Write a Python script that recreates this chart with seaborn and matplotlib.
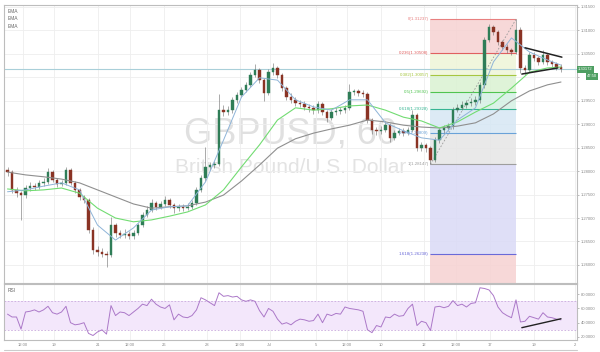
import numpy as np
import pandas as pd
import seaborn as sns
import matplotlib.pyplot as plt

# Seaborn theme first, then the font list (set_theme resets font.family)
sns.set_theme(style="whitegrid", rc={"grid.color": "#eeeeee", "grid.linewidth": 0.6})
plt.rcParams["font.family"] = ["Liberation Sans", "DejaVu Sans"]

"""
# Data read off the chart (GBPUSD, hourly candles)
"""

first_open = 1.2802

closes = [
    1.2798, 1.2760, 1.2753, 1.2749, 1.2764, 1.2768, 1.2766, 1.2775, 1.2777, 1.2798,
    1.2781, 1.2773, 1.2775, 1.2802, 1.2775, 1.2760, 1.2745, 1.2739, 1.2675, 1.2632,
    1.2628, 1.2623, 1.2621, 1.2685, 1.2668, 1.2664, 1.2666, 1.2662, 1.2668, 1.2685,
    1.2707, 1.2717, 1.2732, 1.2724, 1.2730, 1.2739, 1.2728, 1.2721, 1.2724, 1.2721,
    1.2724, 1.2732, 1.2760, 1.2785, 1.2809, 1.2813, 1.2816, 1.2930, 1.2926, 1.2930,
    1.2952, 1.2962, 1.2973, 1.2984, 1.3005, 1.3016, 1.2994, 1.2967, 1.3011, 1.3020,
    1.3005, 1.2977, 1.2958, 1.2952, 1.2945, 1.2943, 1.2937, 1.2935, 1.2930, 1.2943,
    1.2926, 1.2913, 1.2926, 1.2928, 1.2930, 1.2935, 1.2969, 1.2971, 1.2967, 1.2965,
    1.2909, 1.2888, 1.2886, 1.2888, 1.2898, 1.2871, 1.2881, 1.2886, 1.2881, 1.2888,
    1.2920, 1.2849, 1.2856, 1.2849, 1.2824, 1.2866, 1.2888, 1.2892, 1.2896, 1.2930,
    1.2935, 1.2941, 1.2945, 1.2947, 1.2952, 1.2984, 1.3080, 1.3107, 1.3097, 1.3075,
    1.3065, 1.3058, 1.3054, 1.3101, 1.3020, 1.3016, 1.3048, 1.3041, 1.3033, 1.3048,
    1.3033, 1.3028, 1.3022, 1.30172,
]

highs = [
    1.2808, 1.2803, 1.2766, 1.2758, 1.2770, 1.2776, 1.2774, 1.2782, 1.2785, 1.2806,
    1.2802, 1.2786, 1.2781, 1.2809, 1.2806, 1.2779, 1.2764, 1.2750, 1.2742, 1.2680,
    1.2640, 1.2636, 1.2630, 1.2702, 1.2690, 1.2674, 1.2677, 1.2672, 1.2675, 1.2690,
    1.2712, 1.2725, 1.2740, 1.2737, 1.2736, 1.2746, 1.2743, 1.2732, 1.2730, 1.2729,
    1.2731, 1.2738, 1.2766, 1.2791, 1.2852, 1.2820, 1.2822, 1.2965, 1.2940, 1.2938,
    1.2958, 1.2968, 1.2980, 1.2991, 1.3012, 1.3028, 1.3020, 1.2998, 1.3018, 1.3030,
    1.3025, 1.3009, 1.2982, 1.2966, 1.2958, 1.2952, 1.2950, 1.2944, 1.2941, 1.2950,
    1.2948, 1.2930, 1.2933, 1.2936, 1.2937, 1.2942, 1.2985, 1.2976, 1.2975, 1.2972,
    1.2969, 1.2914, 1.2895, 1.2896, 1.2906, 1.2902, 1.2888, 1.2893, 1.2892, 1.2895,
    1.2930, 1.2924, 1.2862, 1.2860, 1.2853, 1.2872, 1.2893, 1.2899, 1.2903, 1.2937,
    1.2944, 1.2950, 1.2952, 1.2956, 1.2960, 1.2990, 1.3086, 1.3113, 1.3112, 1.3100,
    1.3080, 1.3070, 1.3062, 1.31237, 1.3108, 1.3026, 1.3054, 1.3055, 1.3046, 1.3058,
    1.3052, 1.3038, 1.3033, 1.3028,
]

lows = [
    1.2790, 1.2754, 1.2745, 1.2696, 1.2742, 1.2758, 1.2760, 1.2761, 1.2769, 1.2772,
    1.2776, 1.2767, 1.2768, 1.2771, 1.2770, 1.2754, 1.2738, 1.2731, 1.2668, 1.2624,
    1.2620, 1.2616, 1.2596, 1.2617, 1.2660, 1.2657, 1.2658, 1.2655, 1.2656, 1.2663,
    1.2680, 1.2702, 1.2712, 1.2718, 1.2719, 1.2726, 1.2722, 1.2710, 1.2716, 1.2715,
    1.2717, 1.2719, 1.2728, 1.2755, 1.2780, 1.2803, 1.2806, 1.2810, 1.2918, 1.2920,
    1.2925, 1.2946, 1.2957, 1.2968, 1.2979, 1.3000, 1.2988, 1.2950, 1.2962, 1.3004,
    1.2998, 1.2970, 1.2952, 1.2945, 1.2938, 1.2936, 1.2930, 1.2927, 1.2922, 1.2925,
    1.2920, 1.2905, 1.2908, 1.2920, 1.2922, 1.2925, 1.2930, 1.2963, 1.2961, 1.2958,
    1.2902, 1.2880, 1.2878, 1.2880, 1.2883, 1.2862, 1.2866, 1.2876, 1.2875, 1.2876,
    1.2884, 1.2842, 1.2843, 1.2840, 1.28147, 1.2820, 1.2860, 1.2882, 1.2886, 1.2890,
    1.2926, 1.2930, 1.2935, 1.2938, 1.2940, 1.2946, 1.2978, 1.3075, 1.3090, 1.3068,
    1.3058, 1.3052, 1.3048, 1.3050, 1.3010, 1.3006, 1.3012, 1.3034, 1.3026, 1.3028,
    1.3027, 1.3022, 1.3016, 1.3012,
]

# EMA values read every 4th bar
ema_bars = list(range(0, 121, 4)) + [123]
ema_fast = [
    1.2756, 1.2760, 1.2768, 1.2775, 1.2760, 1.2685, 1.2653, 1.2679, 1.2717, 1.2724,
    1.2726, 1.2777, 1.2866, 1.2958, 1.2999, 1.2994, 1.2952, 1.2937, 1.2930, 1.2952,
    1.2952, 1.2903, 1.2886, 1.2871, 1.2866, 1.2909, 1.2935, 1.3033, 1.3084, 1.3054,
    1.3037, 1.3026,
]
ema_mid = [
    1.2762, 1.2758, 1.2760, 1.2764, 1.2753, 1.2721, 1.2700, 1.2692, 1.2696, 1.2704,
    1.2713, 1.2728, 1.2760, 1.2809, 1.2856, 1.2909, 1.2935, 1.2930, 1.2933, 1.2939,
    1.2941, 1.2930, 1.2915, 1.2907, 1.2892, 1.2905, 1.2926, 1.2945, 1.2977, 1.3011,
    1.3020, 1.3022,
]
ema_slow = [
    1.2798, 1.2792, 1.2788, 1.2783, 1.2775, 1.2760, 1.2745, 1.2730, 1.2721, 1.2724,
    1.2726, 1.2734, 1.2749, 1.2779, 1.2813, 1.2849, 1.2869, 1.2881, 1.2890, 1.2898,
    1.2909, 1.2905, 1.2898, 1.2894, 1.2892, 1.2896, 1.2903, 1.2922, 1.2950, 1.2971,
    1.2984, 1.2990,
]

rsi = [
    52, 48, 48, 31, 55, 56, 58, 55, 58, 63,
    54, 52, 55, 63, 40, 37, 38, 40, 25, 22,
    27, 30, 24, 64, 50, 55, 54, 50, 55, 60,
    66, 64, 73, 66, 62, 60, 65, 44, 52, 48,
    47, 50, 58, 75, 72, 68, 64, 82, 77, 78,
    76, 77, 72, 70, 72, 70, 57, 48, 60, 56,
    45, 38, 40, 37, 42, 45, 44, 42, 43, 52,
    40, 52, 50, 53, 52, 62, 60, 59, 58, 56,
    30, 26, 36, 34, 48, 47, 52, 49, 50, 60,
    66, 36, 42, 40, 29, 62, 63, 61, 63, 71,
    64, 66, 62, 67, 68, 89, 88, 86, 78, 62,
    54, 50, 47, 72, 41, 42, 49, 47, 45, 54,
    48, 47, 45, 44,
]

# Fibonacci retracement drawn from the swing low to the swing high
fib_ratios = ["0", "0.236", "0.382", "0.5", "0.618", "0.786", "1", "1.618"]
fib_prices = [1.31237, 1.30508, 1.30057, 1.29692, 1.29328, 1.28809, 1.28147, 1.26238]
fib_start, fib_end = 94, 113

# hand-drawn pattern lines
tri_upper_x, tri_upper_y = [115, 123.2], [1.3063, 1.3043]
tri_lower_x, tri_lower_y = [114.3, 122.3], [1.3007, 1.3020]
rsi_line_x, rsi_line_y = [114.3, 123], [33, 45.5]

last_price = 1.30172

# axis ticks
time_labels = ["12:00", "19", "21", "12:00", "26", "28", "12:00", "Jul", "5",
               "12:00", "10", "12", "12:00", "17", "19", "2"]
time_ticks = [3.4, 10.3, 20.1, 27.2, 34.8, 44.3, 51.7, 58.3, 68.6,
              75.4, 83.0, 92.6, 99.7, 107.2, 117.0, 126.1]
price_ticks = [1.260, 1.265, 1.270, 1.275, 1.280, 1.285, 1.290, 1.295,
               1.300, 1.305, 1.310, 1.315]
rsi_ticks = [20, 40, 60, 80]

df = pd.DataFrame({"close": closes, "high": highs, "low": lows})
df["open"] = [first_open] + closes[:-1]
df["bar"] = np.arange(len(df))
up = df["close"] >= df["open"]

"""
# Figure
"""

fig = plt.figure(figsize=(6, 3.52), dpi=100)
ax = fig.add_axes([4 / 600, 1 - 283 / 352, 573 / 600, 278 / 352])
ax2 = fig.add_axes([4 / 600, 1 - 340 / 352, 573 / 600, 56 / 352], sharex=ax)

# watermark
ax.text(0.5, 0.50, "GBPUSD, 60", transform=ax.transAxes, ha="center", va="baseline",
        fontsize=26, color="#e0e0e0", zorder=0.5)
ax.text(0.5, 0.395, "British Pound/U.S. Dollar", transform=ax.transAxes, ha="center",
        va="baseline", fontsize=15, color="#e3e3e3", zorder=0.5)

# fibonacci zones
zone_colors = ["#f6d2d2", "#eef5d8", "#daf2d2", "#d4f0e3", "#d6e7f4", "#e6e6e6", "#dadaf6", "#f6d2d2"]
line_colors = ["#e88080", "#e06060", "#a6c640", "#50c450", "#36b592", "#6aa2d8", "#9e9e9e", "#6a6ad8"]
zone_edges = fib_prices + [1.2500]
for i in range(len(fib_prices)):
    ax.fill_between([fib_start, fib_end], zone_edges[i + 1], zone_edges[i],
                    color=zone_colors[i], alpha=0.85, lw=0, zorder=1)
    ax.hlines(fib_prices[i], fib_start, fib_end, color=line_colors[i], lw=0.8, zorder=1.5)
    ax.text(fib_start - 0.4, fib_prices[i], f"{fib_ratios[i]}({fib_prices[i]:.5f})",
            ha="right", va="center", fontsize=3.2, color=line_colors[i], zorder=6)
ax.plot([fib_start, fib_end], [fib_prices[6], fib_prices[0]], color="#9a9a9a",
        lw=0.6, ls=(0, (2, 2)), zorder=2)

ax.axhline(last_price, color="#a9cfd9", lw=0.8, zorder=2)

# candles
ax.vlines(df["bar"], df["low"], df["high"], color="#6a6a6a", lw=0.4, zorder=3)
ax.bar(df["bar"][up], (df["close"] - df["open"])[up], bottom=df["open"][up], width=0.5,
       color="#2f7d57", edgecolor="#2f7d57", lw=0.3, zorder=4)
ax.bar(df["bar"][~up], (df["close"] - df["open"])[~up], bottom=df["open"][~up], width=0.5,
       color="#8a3324", edgecolor="#8a3324", lw=0.3, zorder=4)

# moving averages
sns.lineplot(x=ema_bars, y=ema_slow, ax=ax, color="#8f8f8f", lw=0.8, zorder=5)
sns.lineplot(x=ema_bars, y=ema_mid, ax=ax, color="#72dc72", lw=0.8, zorder=5)
sns.lineplot(x=ema_bars, y=ema_fast, ax=ax, color="#8eb4d8", lw=0.7, zorder=5)

# triangle
ax.plot(tri_upper_x, tri_upper_y, color="#222222", lw=1.1, zorder=7)
ax.plot(tri_lower_x, tri_lower_y, color="#222222", lw=1.1, zorder=7)

for k in range(3):
    ax.text(0.006, 0.985 - 0.026 * k, "EMA", transform=ax.transAxes, ha="left", va="top",
            fontsize=3.5, color="#666666")

ax.set_xlim(-0.78, 126.56)
ax.set_ylim(1.25615, 1.31542)
ax.set_xticks(time_ticks)
ax.set_yticks(price_ticks)
# the 1.30000 label sits under the live price tags
ax.set_yticklabels([f"{p:.5f}" if abs(p - 1.300) > 1e-9 else "" for p in price_ticks])
ax.yaxis.tick_right()
ax.tick_params(axis="x", labelbottom=False, length=0)
ax.tick_params(axis="y", labelsize=3, colors="#888888", length=1.5, width=0.4, pad=1)
ax.set_axisbelow(True)
ax.grid(True, axis="both")

# current price tags
ax.text(1.002, last_price, f"{last_price:.5f}", transform=ax.get_yaxis_transform(),
        ha="left", va="center", fontsize=3, color="white", clip_on=False, zorder=10,
        bbox=dict(boxstyle="square,pad=0.3", fc="#4e9f62", ec="none"))
ax.text(1.035, 1.3002, "47:50", transform=ax.get_yaxis_transform(),
        ha="right", va="center", fontsize=3, color="white", clip_on=False, zorder=10,
        bbox=dict(boxstyle="square,pad=0.3", fc="#4e9f62", ec="none"))

"""
# RSI panel
"""

ax2.axhspan(30, 70, color="#f3e7fb", lw=0, zorder=1)
ax2.axhline(70, color="#c9a9dd", lw=0.6, ls=(0, (2, 2)), zorder=2)
ax2.axhline(30, color="#c9a9dd", lw=0.6, ls=(0, (2, 2)), zorder=2)
sns.lineplot(x=df["bar"], y=rsi, ax=ax2, color="#ab78c8", lw=0.7, zorder=3)
ax2.plot(rsi_line_x, rsi_line_y, color="#222222", lw=1.0, zorder=4)
ax2.text(0.006, 0.93, "RSI", transform=ax2.transAxes, ha="left", va="top",
         fontsize=3.5, color="#666666")

ax2.set_ylim(15.7, 94.3)
ax2.set_yticks(rsi_ticks)
ax2.yaxis.set_major_formatter(plt.FormatStrFormatter("%.4f"))
ax2.yaxis.tick_right()
ax2.set_xticks(time_ticks)
ax2.set_xticklabels(time_labels)
ax2.tick_params(axis="x", labelsize=3, colors="#888888", length=1.5, width=0.4, pad=1)
ax2.tick_params(axis="y", labelsize=3, colors="#888888", length=1.5, width=0.4, pad=1)
ax2.set_axisbelow(True)
ax2.grid(True, axis="x")
ax2.grid(False, axis="y")
ax2.set_xlabel("")
ax2.set_ylabel("")
ax.set_xlabel("")
ax.set_ylabel("")

for a in (ax, ax2):
    for s in a.spines.values():
        s.set_color("#bdbdbd")
        s.set_linewidth(0.8)

fig.add_artist(plt.Line2D([4 / 600, 577 / 600], [1 - 350 / 352] * 2, color="#cccccc", lw=0.8))

fig.savefig("out.png", dpi=100)
